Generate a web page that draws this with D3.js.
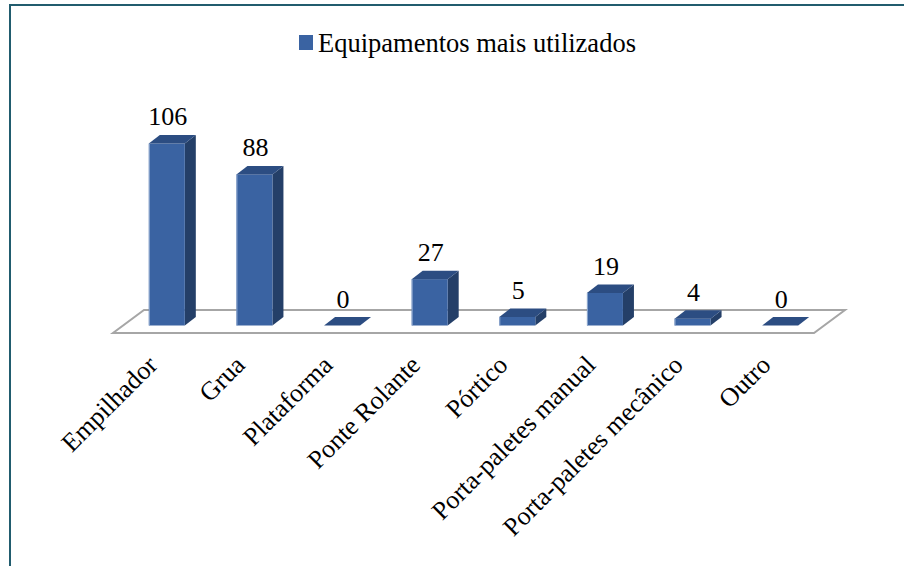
<!DOCTYPE html>
<html>
<head>
<meta charset="utf-8">
<script src="https://cdn.jsdelivr.net/npm/d3@7"></script>
<style>
  html, body { margin: 0; padding: 0; background: #fff; }
  svg { display: block; }
</style>
</head>
<body>
<svg id="chart" width="904" height="566"></svg>
<script>
// Equipment usage counts
const categories = ["Empilhador", "Grua", "Plataforma", "Ponte Rolante", "Pórtico",
                    "Porta-paletes manual", "Porta-paletes mecânico", "Outro"];
const values = [106, 88, 0, 27, 5, 19, 4, 0];
const seriesName = "Equipamentos mais utilizados";

const W = 904, H = 566;
const FONT = "'Liberation Serif', serif";
const svg = d3.select("#chart");

const colors = {
  front: "#3A63A2",
  side: "#243F68",
  top: "#2C4D82",
  floor: "#A6A6A6",
  frame: "#215C6E"
};

// Plane on which bars stand
const x = d3.scaleBand().domain(categories).range([123, 824]).paddingInner(0).paddingOuter(0);
const y = d3.scaleLinear().domain([0, 120]).range([325.5, 325.5 - 120 * 1.717]);

const barW = 36;
const depthX = 11, depthY = 8.5;

// Outer frame
svg.append("path")
  .attr("d", `M10,${H + 5} L10,5 L${W + 5},5`)
  .attr("fill", "none")
  .attr("stroke", colors.frame)
  .attr("stroke-width", 2);

// Floor (3-D ground plane)
const fl = x.range()[0], fr = x.range()[1], fy = y(0);
const frontOff = { dx: -10, dy: 7.5 }, backOff = { dx: 21, dy: -15.5 };
svg.append("path")
  .attr("d", `M${fl + frontOff.dx},${fy + frontOff.dy}
              L${fr + frontOff.dx},${fy + frontOff.dy}
              L${fr + backOff.dx},${fy + backOff.dy}
              L${fl + backOff.dx},${fy + backOff.dy} Z`)
  .attr("fill", "#fff")
  .attr("stroke", colors.floor)
  .attr("stroke-width", 2);

// Bars
const bars = svg.append("g").selectAll("g").data(categories).join("g");
bars.each(function (c, i) {
  const g = d3.select(this);
  const v = values[i];
  const cx = x(c) + x.bandwidth() / 2;
  const x0 = cx - barW / 2, x1 = cx + barW / 2;
  const yb = y(0), yt = y(v);
  if (v > 0) {
    // right side
    g.append("path")
      .attr("d", `M${x1},${yt} L${x1 + depthX},${yt - depthY} L${x1 + depthX},${yb - depthY} L${x1},${yb} Z`)
      .attr("fill", colors.side);
    // front
    g.append("rect")
      .attr("x", x0).attr("y", yt)
      .attr("width", barW).attr("height", yb - yt)
      .attr("fill", colors.front);
    g.append("line")
      .attr("x1", x0 + 0.5).attr("x2", x0 + 0.5).attr("y1", yt).attr("y2", yb)
      .attr("stroke", "#8FA8CF").attr("stroke-width", 1);
  }
  // top
  g.append("path")
    .attr("d", `M${x0},${yt} L${x1},${yt} L${x1 + depthX},${yt - depthY} L${x0 + depthX},${yt - depthY} Z`)
    .attr("fill", colors.top);

  // value label
  g.append("text")
    .attr("x", cx + 1)
    .attr("y", yt - 18)
    .attr("text-anchor", "middle")
    .attr("font-family", FONT)
    .attr("font-size", 26)
    .text(v);
});

// Category labels, rotated
svg.append("g").selectAll("text").data(categories).join("text")
  .attr("transform", c => `translate(${x(c) + x.bandwidth() / 2 - 8},${y(0) + 41}) rotate(-45)`)
  .attr("text-anchor", "end")
  .attr("font-family", FONT)
  .attr("font-size", 26)
  .text(c => c);

// Legend
const legend = svg.append("g").attr("transform", "translate(299,35)");
legend.append("rect").attr("width", 14).attr("height", 15).attr("fill", colors.front);
legend.append("text").attr("x", 19).attr("y", 17)
  .attr("font-family", FONT)
  .attr("font-size", 26.5).text(seriesName);
</script>
</body>
</html>
